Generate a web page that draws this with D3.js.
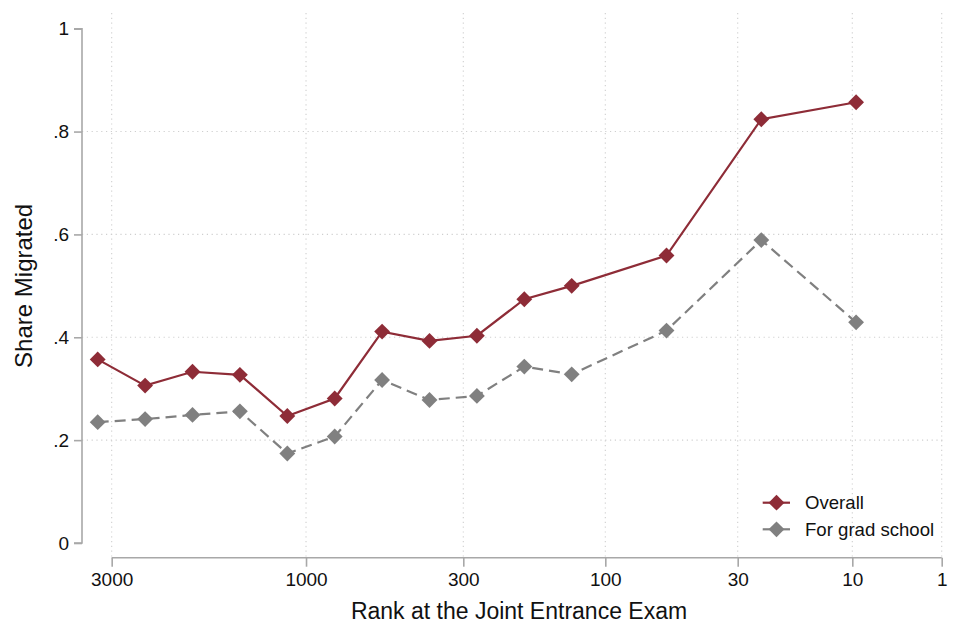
<!DOCTYPE html>
<html>
<head>
<meta charset="utf-8">
<script src="https://cdn.jsdelivr.net/npm/d3@7"></script>
<style>
  html, body { margin: 0; padding: 0; background: #fff; }
  svg { display: block; font-family: "Liberation Sans", Arial, sans-serif; }
</style>
</head>
<body>
<svg id="chart" width="960" height="639"></svg>
<script>
// ---- Data ----
const bins = [0, 1, 2, 3, 4, 5, 6, 7, 8, 9, 10, 12, 14, 16];
const overall = [0.357, 0.306, 0.333, 0.327, 0.247, 0.281, 0.411, 0.393, 0.403, 0.474, 0.500, 0.559, 0.824, 0.857];
const gradSchool = [0.235, 0.241, 0.249, 0.256, 0.174, 0.207, 0.317, 0.278, 0.286, 0.343, 0.328, 0.413, 0.589, 0.429];
const xTickPos = [0.295, 4.395, 7.713, 10.709, 13.502, 15.92, 17.806];
const xTickLabels = ["3000", "1000", "300", "100", "30", "10", "1"];
const yTicks = [0, 0.2, 0.4, 0.6, 0.8, 1];
const yTickLabels = ["0", ".2", ".4", ".6", ".8", "1"];
const yGrid = [0.2, 0.4, 0.6, 0.8];
const seriesNames = ["Overall", "For grad school"];

const colOverall = "#8e2c37";
const colGrad = "#808080";

const svg = d3.select("#chart");
const x = d3.scaleLinear().domain([0, 16]).range([97.7, 856.1]);
const y = d3.scaleLinear().domain([0, 1]).range([543, 28.7]);

const yAxisX = 82;
const xAxisY = 557.7;
const gridCol = "#cfcfcf";

// gridlines
const grid = svg.append("g");
grid.selectAll("line.h").data(yGrid).enter().append("line")
  .attr("x1", yAxisX).attr("x2", 946)
  .attr("y1", d => y(d)).attr("y2", d => y(d))
  .attr("stroke", gridCol).attr("stroke-width", 1.1).attr("stroke-dasharray", "1.2,3.6");
grid.selectAll("line.v").data(xTickPos).enter().append("line")
  .attr("x1", d => x(d)).attr("x2", d => x(d))
  .attr("y1", 13).attr("y2", xAxisY)
  .attr("stroke", gridCol).attr("stroke-width", 1.1).attr("stroke-dasharray", "1.2,3.6");

// y axis
const yAxis = d3.axisLeft(y).tickValues(yTicks)
  .tickFormat((d, i) => yTickLabels[i]).tickSize(8).tickPadding(5);
const gy = svg.append("g").attr("transform", `translate(${yAxisX},0)`).call(yAxis);
gy.select(".domain").attr("stroke", "#a8a8a8").attr("stroke-width", 1.6).attr("d", `M-8,${y(1)}H0V${y(0)}H-8`);
gy.selectAll(".tick line").attr("stroke", "#a8a8a8").attr("stroke-width", 1.6);
gy.selectAll(".tick text").attr("font-size", 19).attr("fill", "#111")
  .attr("font-family", "Liberation Sans, Arial, sans-serif");

// x axis
const xAxis = d3.axisBottom(x).tickValues(xTickPos)
  .tickFormat((d, i) => xTickLabels[i]).tickSize(9).tickPadding(6);
const gx = svg.append("g").attr("transform", `translate(0,${xAxisY})`).call(xAxis);
gx.select(".domain").attr("stroke", "#a8a8a8").attr("stroke-width", 1.6)
  .attr("d", `M${x(xTickPos[0])},0H${x(xTickPos[xTickPos.length - 1])}`);
gx.selectAll(".tick line").attr("stroke", "#a8a8a8").attr("stroke-width", 1.6);
gx.selectAll(".tick text").attr("font-size", 19).attr("fill", "#111")
  .attr("font-family", "Liberation Sans, Arial, sans-serif");

// axis titles
svg.append("text").attr("x", 519).attr("y", 619).attr("text-anchor", "middle")
  .attr("font-size", 23).attr("fill", "#111").text("Rank at the Joint Entrance Exam");
svg.append("text").attr("transform", `translate(32,${(y(0) + y(1)) / 2}) rotate(-90)`)
  .attr("text-anchor", "middle").attr("font-size", 24).attr("fill", "#111").text("Share Migrated");

// series
const diamond = d3.symbol().type(d3.symbolDiamond2).size(160);
const line = d3.line().x(d => x(d[0])).y(d => y(d[1]));

const gradPts = bins.map((b, i) => [b, gradSchool[i]]);
const overPts = bins.map((b, i) => [b, overall[i]]);

svg.append("path").attr("d", line(gradPts)).attr("fill", "none")
  .attr("stroke", colGrad).attr("stroke-width", 2.2).attr("stroke-dasharray", "11,6");
svg.selectAll("path.gm").data(gradPts).enter().append("path")
  .attr("transform", d => `translate(${x(d[0])},${y(d[1])})`)
  .attr("d", diamond).attr("fill", colGrad);

svg.append("path").attr("d", line(overPts)).attr("fill", "none")
  .attr("stroke", colOverall).attr("stroke-width", 2.2);
svg.selectAll("path.om").data(overPts).enter().append("path")
  .attr("transform", d => `translate(${x(d[0])},${y(d[1])})`)
  .attr("d", diamond).attr("fill", colOverall);

// legend
const legend = svg.append("g");
const legCols = [colOverall, colGrad];
seriesNames.forEach((name, i) => {
  const ly = 502.7 + i * 26.6;
  legend.append("line").attr("x1", 762.7).attr("x2", 790).attr("y1", ly).attr("y2", ly)
    .attr("stroke", legCols[i]).attr("stroke-width", 2.2);
  legend.append("path").attr("transform", `translate(776.5,${ly})`)
    .attr("d", diamond).attr("fill", legCols[i]);
  legend.append("text").attr("x", 805).attr("y", ly + 6.5).attr("font-size", 18.6)
    .attr("fill", "#111").text(name);
});
</script>
</body>
</html>
